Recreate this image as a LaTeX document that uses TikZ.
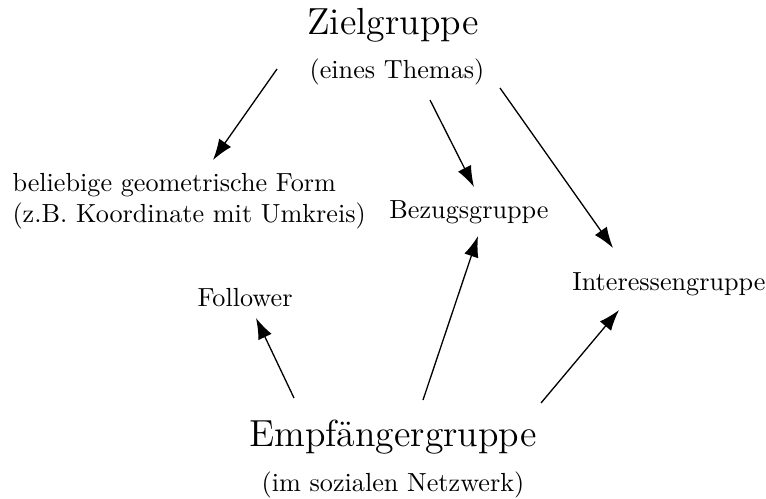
\documentclass[tikz,border=0pt]{standalone}
\usetikzlibrary{arrows.meta}
\begin{document}
\begin{tikzpicture}[x=0.382pt,y=-0.382pt,
  lbl/.style={inner sep=0pt,font=\normalsize},
  big/.style={inner sep=0pt,font=\Large},
  conn/.style={-{Latex[length=8pt,width=5.6pt]},line width=0.5pt}]
\useasboundingbox (0,0) rectangle (766,498);
% texts
\node[big] (ziel) at (393,25) {Zielgruppe};
\node[lbl] (zielsub) at (397,72) {(eines Themas)};
\node[lbl,anchor=west,align=left] (form) at (12,201) {beliebige geometrische Form\\(z.B. Koordinate mit Umkreis)};
\node[lbl] (bezug) at (469,212) {Bezugsgruppe};
\node[lbl] (inter) at (669,284) {Interessengruppe};
\node[lbl] (foll) at (245,298) {Follower};
\node[big] (empf) at (393,437) {Empfängergruppe};
\node[lbl] (empfsub) at (393,485) {(im sozialen Netzwerk)};
% connector end points
\coordinate (z1) at (277,69);
\coordinate (f1) at (213,160);
\coordinate (z2) at (430,100);
\coordinate (b1) at (474,187);
\coordinate (z3) at (500,88);
\coordinate (i1) at (613,248);
\coordinate (e1) at (294,398);
\coordinate (fo1) at (256,318);
\coordinate (e2) at (423,400);
\coordinate (b2) at (478,236);
\coordinate (e3) at (541,403);
\coordinate (i2) at (619,310);
% connectors
\draw[conn] (z1) -- (f1);
\draw[conn] (z2) -- (b1);
\draw[conn] (z3) -- (i1);
\draw[conn] (e1) -- (fo1);
\draw[conn] (e2) -- (b2);
\draw[conn] (e3) -- (i2);
\end{tikzpicture}
\end{document}
